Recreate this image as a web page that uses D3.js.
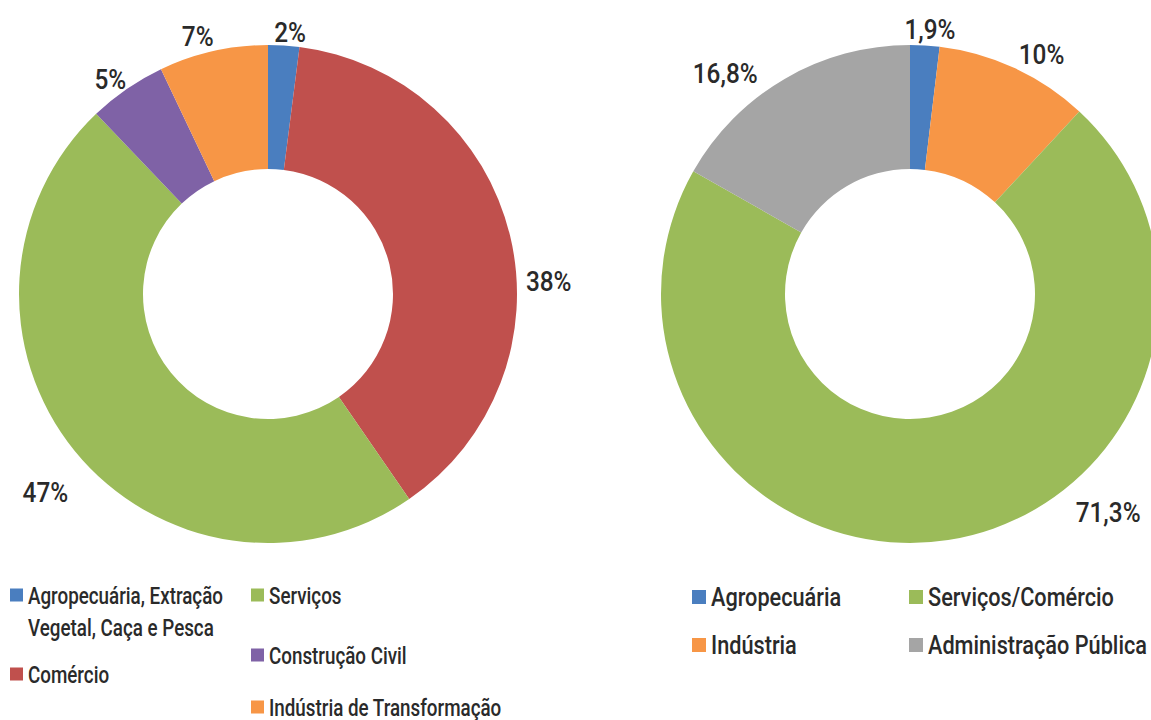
<!DOCTYPE html>
<html>
<head>
<meta charset="utf-8">
<script src="https://cdn.jsdelivr.net/npm/d3@7"></script>
<style>
  body { margin: 0; background: #fff; }
  svg text { font-family: "Roboto", "Noto Sans", sans-serif; font-weight: 500; fill: #2a2a2a; }
</style>
</head>
<body>
<svg id="chart" width="1151" height="720"></svg>
<script>
// Employment by sector — municipality (left) and state reference (right)
const sectorsLeft = ["Agropecuária, Extração Vegetal, Caça e Pesca", "Comércio", "Serviços", "Construção Civil", "Indústria de Transformação"];
const valuesLeft = [2, 38, 47, 5, 7];
const colorsLeft = ["#4a7ebf", "#c0504d", "#9bbb59", "#7f62a6", "#f79646"];

const sectorsRight = ["Agropecuária", "Indústria", "Serviços/Comércio", "Administração Pública"];
const valuesRight = [1.9, 10, 71.3, 16.8];
const colorsRight = ["#4a7ebf", "#f79646", "#9bbb59", "#a5a5a5"];

// Percent labels use the Portuguese decimal comma
const pct = v => String(v).replace(".", ",") + "%";

const svg = d3.select("#chart");

// Label placement along each slice: fraction of the slice's sweep and distance from centre
const labelLayoutLeft = { t: [0.66, 0.58, 0.485, 0.40, 0.40], r: [263, 281, 298, 266, 267] };
const labelLayoutRight = { t: [0.63, 0.61, 0.37, 0.34], r: [265, 273, 295, 288] };

function donut(cx, cy, values, colors, layout) {
  const pie = d3.pie().sort(null).value(d => d);
  const arcs = pie(values);
  const arc = d3.arc().innerRadius(125).outerRadius(249);
  const g = svg.append("g").attr("transform", `translate(${cx},${cy})`);
  g.selectAll("path").data(arcs).join("path")
    .attr("d", arc)
    .attr("fill", (d, i) => colors[i]);
  // Condensed look: type narrowed horizontally
  g.selectAll("text").data(arcs).join("text")
    .attr("text-anchor", "middle")
    .attr("dominant-baseline", "central")
    .attr("font-size", 28)
    .attr("transform", (d, i) => {
      const a = d.startAngle + (d.endAngle - d.startAngle) * layout.t[i];
      const x = layout.r[i] * Math.sin(a);
      const y = -layout.r[i] * Math.cos(a);
      return `translate(${x},${y}) scale(0.87,1)`;
    })
    .text(d => pct(d.data));
}

donut(268, 294, valuesLeft, colorsLeft, labelLayoutLeft);
donut(910, 294, valuesRight, colorsRight, labelLayoutRight);

// Legends
function legend(items, fontSize, squeeze, box) {
  const g = svg.append("g");
  items.forEach(it => {
    g.append("rect")
      .attr("x", it.x).attr("y", it.y - box / 2)
      .attr("width", box).attr("height", box)
      .attr("fill", it.color);
    const t = g.append("text")
      .attr("transform", `translate(${it.x + box + 5},${it.y}) scale(${squeeze},1)`)
      .attr("dominant-baseline", "central")
      .attr("font-size", fontSize);
    it.lines.forEach((ln, k) => {
      t.append("tspan").attr("x", 0).attr("dy", k === 0 ? 0 : 32).text(ln);
    });
  });
}

legend([
  { x: 10, y: 595, color: colorsLeft[0], lines: ["Agropecuária, Extração", "Vegetal, Caça e Pesca"] },
  { x: 10, y: 674, color: colorsLeft[1], lines: [sectorsLeft[1]] },
  { x: 251, y: 595, color: colorsLeft[2], lines: [sectorsLeft[2]] },
  { x: 251, y: 655, color: colorsLeft[3], lines: [sectorsLeft[3]] },
  { x: 251, y: 707, color: colorsLeft[4], lines: [sectorsLeft[4]] }
], 23.5, 0.80, 13);

legend([
  { x: 692, y: 597, color: colorsRight[0], lines: [sectorsRight[0]] },
  { x: 692, y: 645, color: colorsRight[1], lines: [sectorsRight[1]] },
  { x: 909, y: 597, color: colorsRight[2], lines: [sectorsRight[2]] },
  { x: 909, y: 645, color: colorsRight[3], lines: [sectorsRight[3]] }
], 26, 0.835, 14);
</script>
</body>
</html>
